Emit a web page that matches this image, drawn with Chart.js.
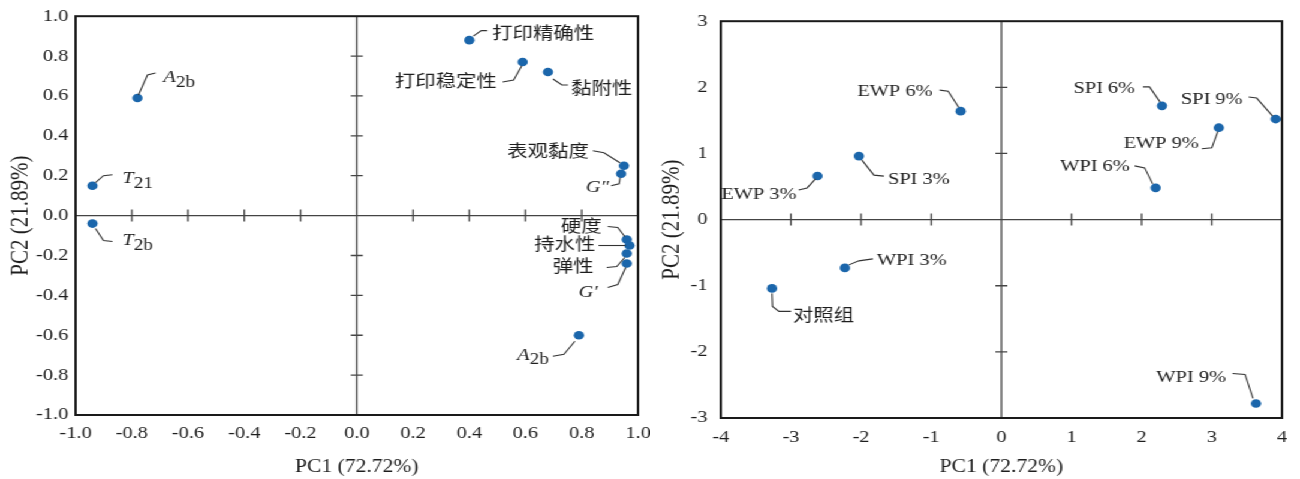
<!DOCTYPE html>
<html>
<head>
<meta charset="utf-8">
<script src="https://cdn.jsdelivr.net/npm/chart.js@4.4.0/dist/chart.umd.min.js"></script>
<style>
  html, body { margin: 0; padding: 0; background: #fff; overflow: hidden; }
  /* the source figure is stretched horizontally, so the whole page is drawn narrow and scaled */
  #wrap { width: 1084px; height: 479px; display: flex; transform: scaleX(1.19926); transform-origin: 0 0; }
  .box { width: 542px; height: 479px; position: relative; }
</style>
</head>
<body>
<div id="wrap">
  <div class="box"><canvas id="loadChart"></canvas></div>
  <div class="box"><canvas id="scoreChart"></canvas></div>
</div>
<script>
// 左图：指标载荷
const loadNames = ['打印精确性', '打印稳定性', '黏附性', '表观黏度', 'G″', '硬度', '持水性', '弹性', 'G′', 'A2b', 'T21', 'T2b', 'A2b'];
const loadPC1 = [0.40, 0.59, 0.68, 0.95, 0.94, 0.96, 0.97, 0.96, 0.96, -0.78, -0.94, -0.94, 0.79];
const loadPC2 = [0.88, 0.77, 0.72, 0.25, 0.21, -0.12, -0.15, -0.19, -0.24, 0.59, 0.15, -0.04, -0.60];
const loadTicks = ['-1.0', '-0.8', '-0.6', '-0.4', '-0.2', '0.0', '0.2', '0.4', '0.6', '0.8', '1.0'];

// 右图：样品得分
const scoreNames = ['EWP 6%', 'SPI 3%', 'EWP 3%', 'SPI 6%', 'SPI 9%', 'EWP 9%', 'WPI 6%', 'WPI 3%', '对照组', 'WPI 9%'];
const scorePC1 = [-0.58, -2.03, -2.62, 2.29, 3.91, 3.10, 2.20, -2.23, -3.27, 3.63];
const scorePC2 = [1.64, 0.96, 0.66, 1.72, 1.52, 1.39, 0.48, -0.73, -1.04, -2.78];
const scoreXTicks = ['-4', '-3', '-2', '-1', '0', '1', '2', '3', '4'];
const scoreYTicks = ['-3', '-2', '-1', '0', '1', '2', '3'];

const SX = 1300 / 1084;

// label placement, screen px relative to the point: text anchor + leader line
const loadTags = [
  { a: 'left',  t: [23, -6],  p: [[4, -4], [12, -9.5], [18, -9.5]] },
  { a: 'right', t: [-26, 20], p: [[-20, 20], [-9, 18], [-1, 4]] },
  { a: 'left',  t: [23, 17],  p: [[5, 7], [14, 13], [20, 13]] },
  { a: 'right', t: [-35, -13], p: [[-31, -15], [-20, -13], [-4, -3]] },
  { a: 'right', t: [-12, 14], p: [[-10, 12], [-2, 10], [-1, 4]] },
  { a: 'right', t: [-25, -12], p: [[-19, -13], [-9, -12], [-2, -3]] },
  { a: 'right', t: [-34, 0],  p: [[-31, 0], [-4, 0]] },
  { a: 'right', t: [-33, 14], p: [[-20, 14], [-10, 13], [-2, 4]] },
  { a: 'right', t: [-29, 29], p: [[-19, 24], [-9, 21], [-1, 4]] },
  { a: 'left',  t: [26, -20], p: [[1, -3], [10, -23], [18, -25]] },
  { a: 'left',  t: [30, -7],  p: [[3, -3], [11, -10], [20, -11]] },
  { a: 'left',  t: [30, 17],  p: [[3, 5], [11, 17], [20, 18]] },
  { a: 'right', t: [-30, 20], p: [[-26, 21], [-15, 19], [-4, 6]] }
];
const scoreTags = [
  { a: 'right', t: [-28, -20], p: [[-21, -21], [-12.5, -20], [-2, -4]] },
  { a: 'left',  t: [29, 23],  p: [[3, 4], [15, 19], [25, 20]] },
  { a: 'right', t: [-21, 19], p: [[-19, 14], [-10.5, 12], [-2, 3]] },
  { a: 'right', t: [-27, -17], p: [[-19, -19], [-12.5, -19], [-2, -4]] },
  { a: 'right', t: [-33, -20], p: [[-27, -22], [-19, -21], [-3, -3]] },
  { a: 'right', t: [-20, 16], p: [[-17, 21], [-7, 20], [-1, 4]] },
  { a: 'right', t: [-26, -21], p: [[-21, -22], [-11, -20], [-3, -4]] },
  { a: 'left',  t: [32, -7],  p: [[4, -3], [14, -7], [28, -9]] },
  { a: 'left',  t: [21, 28],  p: [[0, 5], [0.5, 18], [7, 23], [19, 23]] },
  { a: 'right', t: [-30, -26], p: [[-23.5, -30], [-11, -29], [-3, -5]] }
];

const SERIF = '"Liberation Serif", "Noto Sans CJK SC", serif';

function drawTag(ctx, name, x, y, align) {
  ctx.textBaseline = 'middle';
  const m = /^([A-Z])([0-9a-z]+|[′″])$/.exec(name);
  if (!m) {
    ctx.font = '17px ' + SERIF;
    ctx.textAlign = align;
    ctx.fillText(name, x, y);
    return;
  }
  const prime = /[′″]/.test(m[2]);
  const fMain = 'italic 17px ' + SERIF;
  const fRest = prime ? fMain : '16px ' + SERIF;
  ctx.font = fMain;
  const w1 = ctx.measureText(m[1]).width;
  ctx.font = fRest;
  const w2 = ctx.measureText(m[2]).width;
  const x0 = align === 'right' ? x - w1 - w2 : x;
  ctx.textAlign = 'left';
  ctx.font = fMain;
  ctx.fillText(m[1], x0, y);
  ctx.font = fRest;
  ctx.fillText(m[2], x0 + w1, prime ? y : y + 5);
}

const pcaDecor = {
  id: 'pcaDecor',
  beforeDatasetsDraw(chart) {
    const { ctx, chartArea: a, scales: { x, y } } = chart;
    const x0 = x.getPixelForValue(0), y0 = y.getPixelForValue(0);
    ctx.save();
    // central cross with its tick marks
    ctx.strokeStyle = '#444';
    ctx.lineWidth = 1.3;
    ctx.beginPath();
    ctx.moveTo(x0, a.top); ctx.lineTo(x0, a.bottom);
    ctx.moveTo(a.left, y0); ctx.lineTo(a.right, y0);
    x.ticks.forEach(t => {
      if (t.value <= x.min + 1e-9 || t.value >= x.max - 1e-9 || Math.abs(t.value) < 1e-9) return;
      const px = x.getPixelForValue(t.value);
      ctx.moveTo(px, y0 - 6); ctx.lineTo(px, y0 + 6);
    });
    y.ticks.forEach(t => {
      if (t.value <= y.min + 1e-9 || t.value >= y.max - 1e-9 || Math.abs(t.value) < 1e-9) return;
      const py = y.getPixelForValue(t.value);
      ctx.moveTo(x0 - 6 / SX, py); ctx.lineTo(x0 + 6 / SX, py);
    });
    ctx.stroke();
    // frame
    ctx.strokeStyle = '#1a1a1a';
    ctx.lineWidth = 2;
    ctx.strokeRect(a.left, a.top, a.right - a.left, a.bottom - a.top);
    ctx.restore();
  },
  afterDatasetsDraw(chart, args, opts) {
    const { ctx } = chart;
    const pts = chart.getDatasetMeta(0).data;
    ctx.save();
    ctx.strokeStyle = '#333';
    ctx.fillStyle = '#1e1e1e';
    ctx.lineWidth = 1.1;
    pts.forEach((pt, i) => {
      const tag = opts.tags[i];
      ctx.beginPath();
      tag.p.forEach((q, k) => {
        const qx = pt.x + q[0] / SX, qy = pt.y + q[1];
        if (k === 0) ctx.moveTo(qx, qy); else ctx.lineTo(qx, qy);
      });
      ctx.stroke();
      drawTag(ctx, opts.names[i], pt.x + tag.t[0] / SX, pt.y + tag.t[1], tag.a);
    });
    ctx.restore();
  }
};

function makeChart(id, cfg) {
  const points = cfg.xs.map((v, i) => ({ x: v, y: cfg.ys[i] }));
  return new Chart(document.getElementById(id), {
    type: 'scatter',
    data: {
      datasets: [{
        data: points,
        backgroundColor: '#1b66ab',
        borderColor: '#1b66ab',
        borderWidth: 0,
        pointRadius: 4.3,
        clip: false
      }]
    },
    options: {
      responsive: true,
      maintainAspectRatio: false,
      animation: false,
      layout: { padding: cfg.pad },
      plugins: {
        legend: { display: false },
        tooltip: { enabled: false },
        pcaDecor: { tags: cfg.tags, names: cfg.names }
      },
      scales: {
        x: {
          type: 'linear',
          min: cfg.xMin, max: cfg.xMax,
          grid: { display: false, drawTicks: false },
          border: { display: false },
          ticks: {
            stepSize: cfg.xStep,
            autoSkip: false,
            maxRotation: 0,
            padding: cfg.xTickPad,
            color: '#1e1e1e',
            font: { family: 'Liberation Serif', size: 17 },
            callback: (v, i) => cfg.xTicks[i]
          },
          title: {
            display: true,
            text: 'PC1 (72.72%)',
            color: '#1e1e1e',
            font: { family: 'Liberation Serif', size: 18 },
            padding: { top: 0, bottom: 1 }
          },
          afterFit(s) { s.height = cfg.xH; s.paddingLeft = 0; s.paddingRight = 0; }
        },
        y: {
          type: 'linear',
          min: cfg.yMin, max: cfg.yMax,
          grid: { display: false, drawTicks: false },
          border: { display: false },
          ticks: {
            stepSize: cfg.yStep,
            autoSkip: false,
            padding: cfg.yTickPad,
            color: '#1e1e1e',
            font: { family: 'Liberation Serif', size: 17 },
            callback: (v, i) => cfg.yTicks[i]
          },
          title: {
            display: true,
            text: 'PC2 (21.89%)',
            color: '#1e1e1e',
            font: { family: 'Liberation Serif', size: 21 },
            padding: { top: cfg.yTitlePad, bottom: 0 }
          },
          afterFit(s) { s.width = cfg.yW; }
        }
      }
    },
    plugins: [pcaDecor]
  });
}

makeChart('loadChart', {
  xs: loadPC1, ys: loadPC2, names: loadNames, tags: loadTags,
  xMin: -1, xMax: 1, xStep: 0.2, xTicks: loadTicks,
  yMin: -1, yMax: 1, yStep: 0.2, yTicks: loadTicks,
  pad: { top: 14, right: 10, left: 0, bottom: 0 },
  xH: 64, yW: 63, xTickPad: 8, yTickPad: 6, yTitlePad: 5
});

makeChart('scoreChart', {
  xs: scorePC1, ys: scorePC2, names: scoreNames, tags: scoreTags,
  xMin: -4, xMax: 4, xStep: 1, xTicks: scoreXTicks,
  yMin: -3, yMax: 3, yStep: 1, yTicks: scoreYTicks,
  pad: { top: 16, right: 15, left: 0, bottom: 0 },
  xH: 61, yW: 59, xTickPad: 9, yTickPad: 11, yTitlePad: 6
});
</script>
</body>
</html>
